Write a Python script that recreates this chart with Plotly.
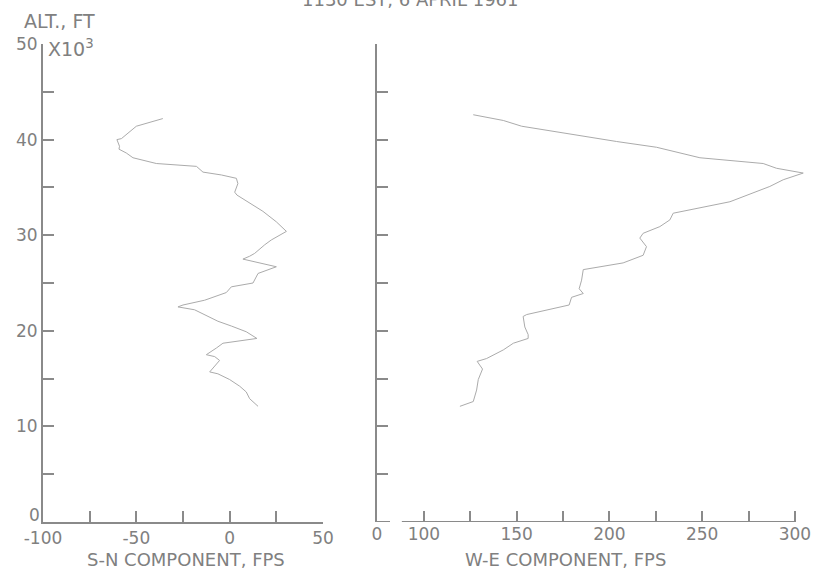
import plotly.graph_objects as go

# Wind profile, 1130 EST 6 April 1961 (altitude in thousands of feet)
sn_alt = [12.1, 12.9, 13.6, 14.2, 14.9, 15.5, 15.7, 16.6, 16.9, 17.3, 17.5, 18.2, 18.7,
          19.2, 19.9, 20.5, 21.0, 22.2, 22.5, 22.7, 23.2, 24.0, 24.6, 25.0, 26.0, 26.7,
          27.5, 27.8, 28.1, 29.0, 29.5, 30.4, 31.4, 32.5, 33.5, 34.2, 34.5, 35.4, 35.95,
          36.3, 36.6, 37.2, 37.5, 38.1, 38.6, 39.0, 39.3, 40.0, 40.1, 41.1, 41.4, 42.2]
sn_fps = [15.2, 10.7, 8.9, 5.4, 0.0, -6.3, -10.7, -7.1, -5.4, -8.0, -12.5, -7.1, -3.6,
          14.6, 8.9, 0.9, -6.3, -18.8, -27.7, -25.0, -13.4, -1.8, 0.9, 12.5, 15.2, 25.0,
          7.1, 10.7, 13.4, 18.8, 22.3, 30.4, 25.0, 17.8, 9.8, 3.9, 2.7, 4.4, 3.6,
          -4.4, -14.3, -17.8, -39.3, -51.8, -55.4, -59.3, -59.0, -60.4, -58.0, -51.8, -50.0, -35.8]

we_alt = [12.1, 12.6, 13.8, 14.9, 16.0, 16.8, 17.1, 18.0, 18.7, 19.2, 19.6, 20.4, 21.5,
          21.7, 22.7, 23.5, 23.9, 24.4, 25.3, 26.4, 27.1, 27.9, 28.8, 29.7, 30.2, 30.9,
          31.6, 32.3, 33.5, 35.1, 35.8, 36.5, 37.0, 37.5, 38.1, 38.6, 39.2, 39.8, 40.7,
          41.4, 42.0, 42.6]
we_fps = [119.4, 126.6, 128.4, 129.3, 131.6, 128.7, 133.8, 142.8, 148.2, 156.2, 156.2, 154.4, 153.5,
          155.4, 178.3, 179.6, 185.9, 183.7, 185.0, 185.9, 207.4, 218.2, 220.0, 216.4, 218.2, 227.2,
          232.6, 234.4, 265.0, 286.5, 293.7, 304.5, 290.1, 282.9, 248.8, 238.0, 225.4, 203.9, 175.1,
          152.7, 142.8, 126.6]

alt_ticks = [0, 10, 20, 30, 40, 50]
alt_ticktext = ["", "10", "20", "30", "40", "50"]  # the origin "0" sits just above the corner
sn_ticks = [-100, -50, 0, 50]
sn_minor = [-75, -25, 25]
we_origin = 74.7  # W-E axis starts at a break; origin labelled 0
we_ticks = [we_origin, 100, 150, 200, 250, 300]
we_ticktext = ["0", "100", "150", "200", "250", "300"]
we_minor = [125, 175, 225, 275]

W, H = 827, 578
FONT = "DejaVu Sans"
AX = "#8a8a8a"
TXT = "#808080"
CURVE = "#ababab"


def px(x):
    return x / W


def py(y):
    return 1 - y / H


fig = go.Figure()
fig.add_trace(go.Scatter(x=sn_fps, y=sn_alt, mode="lines", xaxis="x", yaxis="y",
                         line=dict(color=CURVE, width=1), hoverinfo="skip"))
fig.add_trace(go.Scatter(x=we_fps, y=we_alt, mode="lines", xaxis="x2", yaxis="y2",
                         line=dict(color=CURVE, width=1), hoverinfo="skip"))

tickfont = dict(family=FONT, size=17, color=TXT)
minor_common = dict(ticks="inside", ticklen=11, tickwidth=2, tickcolor=AX)
ydom = [py(522), py(44)]
common = dict(showgrid=False, zeroline=False, automargin=False,
              ticks="inside", ticklen=11, tickwidth=2, tickcolor=AX)

fig.update_layout(
    width=W, height=H,
    margin=dict(l=0, r=0, t=0, b=0),
    paper_bgcolor="white", plot_bgcolor="white",
    showlegend=False,
    xaxis=dict(domain=[px(43), px(323)], range=[-100, 50], anchor="y",
               tickmode="array", tickvals=sn_ticks, ticktext=[str(v) for v in sn_ticks],
               minor=dict(tickmode="array", tickvals=sn_minor, **minor_common),
               showline=True, linecolor=AX, linewidth=2, tickfont=tickfont, **common),
    yaxis=dict(domain=ydom, range=[0, 50], anchor="x",
               tickmode="array", tickvals=alt_ticks, ticktext=alt_ticktext,
               minor=dict(dtick=5, **minor_common),
               showline=True, linecolor=AX, linewidth=2, tickfont=tickfont, **common),
    xaxis2=dict(domain=[px(377), px(806)], range=[we_origin, 306], anchor="y2",
                tickmode="array", tickvals=we_ticks, ticktext=we_ticktext,
                minor=dict(tickmode="array", tickvals=we_minor, **minor_common),
                showline=False, tickfont=tickfont, **common),
    yaxis2=dict(domain=ydom, range=[0, 50], anchor="x2",
                tickmode="array", tickvals=alt_ticks, showticklabels=False,
                minor=dict(dtick=5, **minor_common),
                showline=True, linecolor=AX, linewidth=2, **common),
)

# Broken W-E axis line: short stub at the origin, then 100..300
for x0, x1 in [(we_origin, 81.7), (88.1, 300)]:
    fig.add_shape(type="line", xref="x2", yref="y2", x0=x0, x1=x1, y0=0, y1=0,
                  line=dict(color=AX, width=2))

labels = [
    ("1130 EST, 6 APRIL 1961", 410, -1, "center", 18),
    ("ALT., FT", 59, 20.5, "center", 19),
    ("X10<sup>3</sup>", 46, 48, "left", 19),
    ("0", 34, 515, "center", 17),
    ("S-N COMPONENT, FPS", 186, 559, "center", 18),
    ("W-E COMPONENT, FPS", 565, 559, "center", 18),
]
for text, x, y, xa, size in labels:
    fig.add_annotation(text=text, x=px(x), y=py(y), xref="paper", yref="paper",
                       xanchor=xa, yanchor="middle", showarrow=False,
                       font=dict(family=FONT, size=size, color=TXT))

fig.write_html("out.html")
